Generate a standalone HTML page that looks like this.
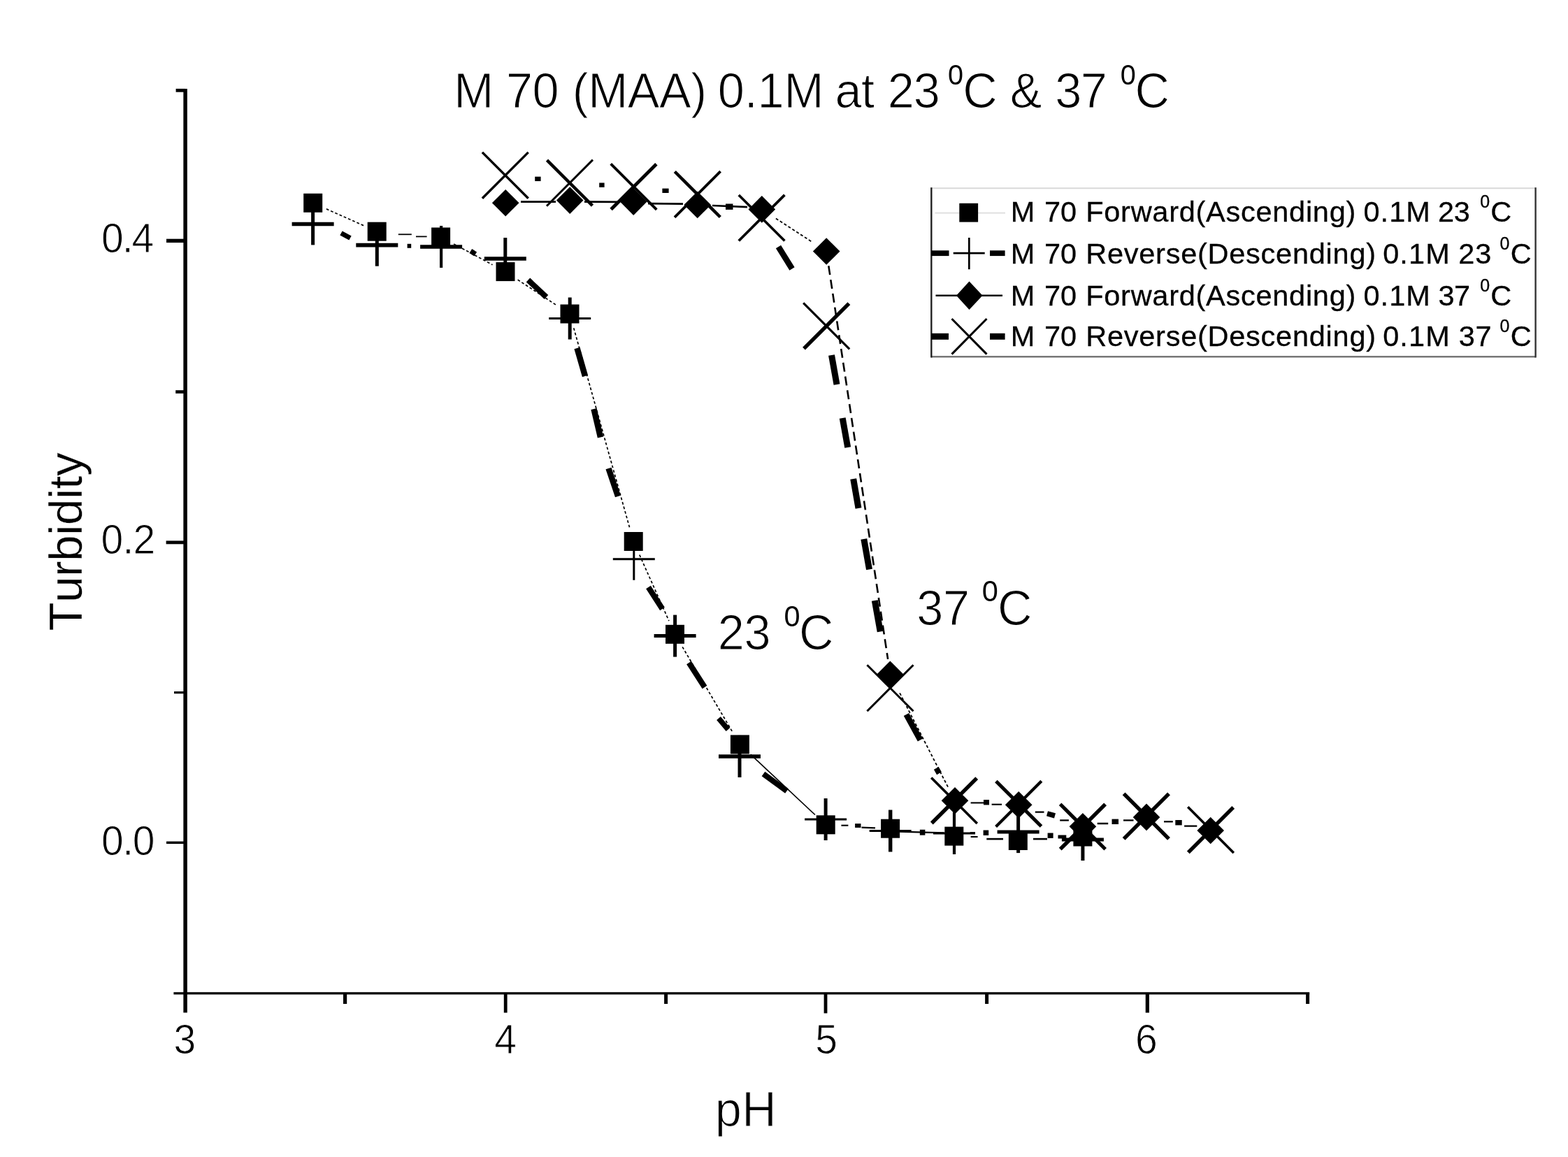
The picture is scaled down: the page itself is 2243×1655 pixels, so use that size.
<!DOCTYPE html>
<html lang="en"><head><meta charset="utf-8"><title>M 70 (MAA) 0.1M turbidity vs pH</title>
<style>html,body{margin:0;padding:0;background:#fff}svg{display:block}text{font-family:"Liberation Sans",Arial,Helvetica,sans-serif;fill:#000;font-kerning:none}</style>
</head><body>
<svg width="2243" height="1655" viewBox="0 0 2243 1655">
<rect width="2243" height="1655" fill="#fff"/>
<g stroke="#000" fill="none" stroke-linecap="butt">
<line x1="265.1" y1="126.9" x2="265.1" y2="1448.6" stroke-width="5.5" />
<line x1="248.4" y1="1420.9" x2="1873.2" y2="1420.9" stroke-width="3.2" />
<line x1="251.6" y1="129.3" x2="265.1" y2="129.3" stroke-width="4.8" />
<line x1="238.0" y1="344.4" x2="265.1" y2="344.4" stroke-width="5.4" />
<line x1="251.2" y1="560.5" x2="265.1" y2="560.5" stroke-width="4.6" />
<line x1="237.6" y1="775.9" x2="265.1" y2="775.9" stroke-width="4.8" />
<line x1="249.0" y1="990.6" x2="265.1" y2="990.6" stroke-width="3.2" />
<line x1="238.0" y1="1205.3" x2="265.1" y2="1205.3" stroke-width="3.5" />
<line x1="493.6" y1="1420.9" x2="493.6" y2="1436.0" stroke-width="5.2" />
<line x1="723.2" y1="1420.9" x2="723.2" y2="1448.6" stroke-width="4.8" />
<line x1="952.6" y1="1420.9" x2="952.6" y2="1436.0" stroke-width="5" />
<line x1="1181.0" y1="1420.9" x2="1181.0" y2="1449.4" stroke-width="4.8" />
<line x1="1411.6" y1="1420.9" x2="1411.6" y2="1436.0" stroke-width="5" />
<line x1="1641.3" y1="1420.9" x2="1641.3" y2="1448.6" stroke-width="5.2" />
<line x1="1870.6" y1="1420.9" x2="1870.6" y2="1436.0" stroke-width="5" />
</g>
<text font-size="57px" stroke="#fff" stroke-width="0.9" transform="translate(0 361.3) scale(1 1.03)"><tspan x="144.92" letter-spacing="-1.921">0.4</tspan></text>
<text font-size="57px" stroke="#fff" stroke-width="0.9" transform="translate(0 791.6) scale(1 1.03)"><tspan x="144.62" letter-spacing="-0.872">0.2</tspan></text>
<text font-size="57px" stroke="#fff" stroke-width="0.9" transform="translate(0 1223.0) scale(1 1.03)"><tspan x="144.92" letter-spacing="-1.292">0.0</tspan></text>
<text font-size="57px" stroke="#fff" stroke-width="0.9" transform="translate(0 1507.4) scale(1 1.03)"><tspan x="248.62">3</tspan></text>
<text font-size="57px" stroke="#fff" stroke-width="0.9" transform="translate(0 1507.4) scale(1 1.03)"><tspan x="707.33">4</tspan></text>
<text font-size="57px" stroke="#fff" stroke-width="0.9" transform="translate(0 1507.4) scale(1 1.03)"><tspan x="1166.21">5</tspan></text>
<text font-size="57px" stroke="#fff" stroke-width="0.9" transform="translate(0 1507.4) scale(1 1.03)"><tspan x="1624.05">6</tspan></text>
<text font-size="68.5px" stroke="#fff" stroke-width="1.1" transform="translate(0 1611.1) scale(1 1.035)"><tspan x="1022.73" letter-spacing="0.436">pH</tspan></text>
<text font-size="67.2px" stroke="#fff" stroke-width="0.4" letter-spacing="-0.329" transform="translate(117.3 902.51) rotate(-90)">Turbidity</text>
<text font-size="68.5px" stroke="#fff" stroke-width="1.1" transform="translate(0 154.1) scale(1 1.015)"><tspan x="649.27">M </tspan><tspan x="723.94" letter-spacing="-0.605">70 </tspan><tspan x="818.80" letter-spacing="-0.441">(MAA) </tspan><tspan x="1026.77" letter-spacing="-0.130">0.1M </tspan><tspan x="1194.54" letter-spacing="-0.616">at </tspan><tspan x="1269.80" letter-spacing="-1.138">23 </tspan><tspan x="1355.89" dy="-32.2" font-size="39.6px" stroke="none">0</tspan><tspan x="1377.38" dy="32.2">C </tspan><tspan x="1444.64">&amp; </tspan><tspan x="1509.34" letter-spacing="-1.539">37 </tspan><tspan x="1602.69" dy="-32.2" font-size="39.6px" stroke="none">0</tspan><tspan x="1623.58" dy="32.2">C</tspan></text>
<text font-size="68.5px" stroke="#fff" stroke-width="1.1" transform="translate(0 929.3) scale(1 1.035)"><tspan x="1026.70" letter-spacing="-0.338">23 </tspan><tspan x="1121.41" dy="-32.6" font-size="41.5px" stroke="none">0</tspan><tspan x="1143.08" dy="32.6">C</tspan></text>
<text font-size="68.5px" stroke="#fff" stroke-width="1.1" transform="translate(0 893.8) scale(1 1.035)"><tspan x="1311.14" letter-spacing="-0.139">37 </tspan><tspan x="1404.86" dy="-32.6" font-size="41.5px" stroke="none">0</tspan><tspan x="1427.08" dy="32.6">C</tspan></text>
<g stroke="#000" fill="none" stroke-linecap="butt">
<line x1="466.9" y1="298.9" x2="520.0" y2="322.6" stroke-width="1.7" stroke-dasharray="3.8 3"/>
<line x1="569.8" y1="335.3" x2="588.8" y2="335.3" stroke-width="1.8" />
<line x1="595.0" y1="338.4" x2="610.6" y2="338.4" stroke-width="1.8" />
<line x1="649.1" y1="348.9" x2="704.5" y2="378.7" stroke-width="1.7" stroke-dasharray="3.8 3"/>
<line x1="740.6" y1="400.1" x2="797.4" y2="437.5" stroke-width="1.7" stroke-dasharray="3.8 3"/>
<line x1="820.7" y1="469.2" x2="900.5" y2="754.3" stroke-width="1.7" stroke-dasharray="3.8 3"/>
<line x1="914.8" y1="793.7" x2="956.9" y2="888.1" stroke-width="1.7" stroke-dasharray="3.8 3"/>
<line x1="976.2" y1="925.4" x2="1047.7" y2="1046.8" stroke-width="1.7" stroke-dasharray="3.8 3"/>
<line x1="1073.7" y1="1079.2" x2="1165.9" y2="1165.5" stroke-width="1.7" />
<line x1="1232.5" y1="1183.6" x2="1252.0" y2="1184.4" stroke-width="2.2" />
<line x1="1287.0" y1="1189.6" x2="1350.5" y2="1191.4" stroke-width="2.3" />
<line x1="745.0" y1="288.6" x2="795.0" y2="288.6" stroke-width="2.7" />
<line x1="836.0" y1="288.6" x2="885.0" y2="288.8" stroke-width="2.7" />
<line x1="927.0" y1="291.2" x2="977.0" y2="291.6" stroke-width="2.7" />
<line x1="1019.0" y1="294.0" x2="1069.0" y2="296.2" stroke-width="2.7" />
<line x1="1109.9" y1="312.5" x2="1162.1" y2="346.4" stroke-width="1.8" stroke-dasharray="4 3"/>
<line x1="1185.3" y1="380.3" x2="1270.1" y2="942.9" stroke-width="2.6" stroke-dasharray="13 7"/>
<line x1="1287.1" y1="991.4" x2="1356.0" y2="1125.7" stroke-width="1.8" stroke-dasharray="4 3"/>
</g>
<g stroke="#000" fill="none" stroke-linecap="butt">
<line x1="488.0" y1="333.5" x2="501.0" y2="340.5" stroke-width="7" />
<line x1="582.6" y1="351.8" x2="588.2" y2="351.8" stroke-width="6.0" />
<line x1="673.3" y1="359.0" x2="680.2" y2="363.5" stroke-width="6.9" />
<line x1="755.5" y1="400.5" x2="781.5" y2="425.0" stroke-width="8" />
<line x1="825.5" y1="498.0" x2="837.0" y2="538.0" stroke-width="8.5" />
<line x1="849.5" y1="585.0" x2="859.0" y2="625.5" stroke-width="8.5" />
<line x1="870.5" y1="670.0" x2="884.0" y2="710.0" stroke-width="8.5" />
<line x1="927.5" y1="840.0" x2="947.5" y2="871.0" stroke-width="8" />
<line x1="985.5" y1="948.0" x2="1008.0" y2="983.0" stroke-width="8" />
<line x1="1028.0" y1="1027.5" x2="1041.5" y2="1043.5" stroke-width="7.5" />
<line x1="1092.0" y1="1107.0" x2="1125.5" y2="1131.5" stroke-width="8" />
<line x1="1203.4" y1="1180.7" x2="1213.4" y2="1180.7" stroke-width="2.1" />
<line x1="1223.1" y1="1181.0" x2="1231.5" y2="1181.0" stroke-width="5.800000000000001" />
<line x1="1315.8" y1="1190.7" x2="1323.4" y2="1190.7" stroke-width="7.9" />
<line x1="1387.7" y1="1191.2" x2="1395.0" y2="1191.2" stroke-width="2.1" />
<line x1="1388.6" y1="1197.0" x2="1398.6" y2="1197.0" stroke-width="2.1" />
<line x1="1406.6" y1="1191.2" x2="1414.2" y2="1191.2" stroke-width="7.4" />
<line x1="1411.3" y1="1200.1" x2="1435.0" y2="1200.1" stroke-width="2.6" />
<line x1="1478.0" y1="1200.1" x2="1498.0" y2="1200.1" stroke-width="2.6" />
<line x1="1498.6" y1="1195.2" x2="1506.6" y2="1195.2" stroke-width="7.4" />
<line x1="1513.5" y1="1197.0" x2="1525.3" y2="1197.0" stroke-width="5" />
<line x1="765.2" y1="255.9" x2="773.6" y2="255.9" stroke-width="6.4" />
<line x1="857.2" y1="264.7" x2="864.6" y2="264.7" stroke-width="6.4" />
<line x1="947.4" y1="272.8" x2="956.6" y2="272.8" stroke-width="6.4" />
<line x1="1038.0" y1="295.7" x2="1048.5" y2="295.7" stroke-width="8.4" />
<line x1="1113.5" y1="353.0" x2="1133.0" y2="384.5" stroke-width="8.5" />
<line x1="1189.5" y1="508.0" x2="1197.0" y2="550.0" stroke-width="9" />
<line x1="1205.2" y1="598.0" x2="1212.7" y2="640.0" stroke-width="9" />
<line x1="1220.7" y1="685.0" x2="1228.0" y2="727.0" stroke-width="9" />
<line x1="1235.8" y1="771.0" x2="1243.5" y2="814.5" stroke-width="9" />
<line x1="1251.3" y1="859.0" x2="1259.2" y2="903.5" stroke-width="9" />
<line x1="1296.5" y1="1022.0" x2="1316.5" y2="1058.5" stroke-width="8.5" />
<line x1="1339.3" y1="1098.9" x2="1343.5" y2="1106.3" stroke-width="7.9" />
<line x1="1388.6" y1="1148.4" x2="1410.4" y2="1148.4" stroke-width="2.1" />
<line x1="1407.0" y1="1147.7" x2="1415.0" y2="1147.7" stroke-width="7.4" />
<line x1="1418.6" y1="1150.7" x2="1433.1" y2="1150.7" stroke-width="2.1" />
<line x1="1480.8" y1="1161.6" x2="1493.5" y2="1161.6" stroke-width="2.3000000000000003" />
<line x1="1498.0" y1="1163.8" x2="1509.0" y2="1166.9" stroke-width="7.4" />
<line x1="1516.2" y1="1173.4" x2="1528.9" y2="1173.4" stroke-width="2.3000000000000003" />
<line x1="1569.7" y1="1178.0" x2="1585.2" y2="1178.0" stroke-width="2.5" />
<line x1="1590.5" y1="1175.3" x2="1600.0" y2="1175.3" stroke-width="7.4" />
<line x1="1607.0" y1="1173.4" x2="1621.5" y2="1173.4" stroke-width="2.3000000000000003" />
<line x1="1665.0" y1="1175.3" x2="1677.8" y2="1175.3" stroke-width="2.3000000000000003" />
<line x1="1681.3" y1="1176.7" x2="1690.7" y2="1176.7" stroke-width="7.4" />
<line x1="1694.1" y1="1181.6" x2="1712.3" y2="1181.6" stroke-width="2.3000000000000003" />
</g>
<g stroke="#000" fill="none" stroke-linecap="butt">
<path d="M689.9 217.9L755.7 283.7" stroke-width="3.4"/>
<path d="M689.9 283.7L755.7 217.9" stroke-width="3.4"/>
<path d="M782.5 229.2L847.5 294.2" stroke-width="4.5"/>
<path d="M782.0 294.8L848.0 228.6" stroke-width="3"/>
<path d="M873.7 234.3L939.3 299.9" stroke-width="3.8"/>
<path d="M874.1 299.5L938.9 234.7" stroke-width="4.8"/>
<path d="M965.3 245.5L1030.3 310.5" stroke-width="4.5"/>
<path d="M965.0 310.8L1030.6 245.2" stroke-width="3.8"/>
<path d="M1056.8 278.9L1122.4 344.5" stroke-width="3.6"/>
<path d="M1056.8 344.5L1122.4 278.9" stroke-width="3.8"/>
<path d="M1149.2 433.4L1215.2 499.4" stroke-width="3.2"/>
<path d="M1150.0 498.6L1214.4 434.2" stroke-width="5.4"/>
<path d="M1240.4 951.2L1306.5 1017.2" stroke-width="3"/>
<path d="M1240.4 1017.2L1306.5 951.2" stroke-width="3"/>
<path d="M1332.2 1112.5L1397.8 1178.1" stroke-width="3.6"/>
<path d="M1332.8 1177.5L1397.2 1113.1" stroke-width="5.4"/>
<path d="M1424.9 1117.5L1489.5 1182.1" stroke-width="5"/>
<path d="M1424.6 1182.4L1489.8 1117.2" stroke-width="4.2"/>
<path d="M1516.6 1150.2L1581.2 1214.8" stroke-width="5"/>
<path d="M1516.7 1214.7L1581.1 1150.3" stroke-width="5.4"/>
<path d="M1607.6 1135.4L1672.0 1199.8" stroke-width="5.4"/>
<path d="M1607.6 1199.8L1672.0 1135.4" stroke-width="5.4"/>
<path d="M1699.2 1154.3L1764.8 1219.9" stroke-width="3.6"/>
<path d="M1699.8 1219.3L1764.2 1154.9" stroke-width="5.4"/>
<path d="M417.6 320.4H477.6" stroke-width="5.5"/>
<path d="M447.6 290.4V350.4" stroke-width="5"/>
<path d="M509.3 350.7H569.3" stroke-width="5.8"/>
<path d="M539.3 320.7V380.7" stroke-width="5"/>
<path d="M601.1 353.0H661.1" stroke-width="5.5"/>
<path d="M631.1 323.0V383.0" stroke-width="4.2"/>
<path d="M692.8 370.1H752.8" stroke-width="5.5"/>
<path d="M722.8 340.1V400.1" stroke-width="5"/>
<path d="M785.2 455.5H845.2" stroke-width="2.8"/>
<path d="M815.2 425.5V485.5" stroke-width="5"/>
<path d="M876.8 799.8H936.8" stroke-width="3"/>
<path d="M906.8 769.8V829.8" stroke-width="3"/>
<path d="M935.6 909.6H995.6" stroke-width="5"/>
<path d="M965.6 879.6V939.6" stroke-width="5"/>
<path d="M1028.0 1081.9H1088.0" stroke-width="5.5"/>
<path d="M1058.0 1051.9V1111.9" stroke-width="5"/>
<path d="M1151.1 1172.0H1211.1" stroke-width="3"/>
<path d="M1181.1 1142.0V1202.0" stroke-width="5"/>
<path d="M1243.7 1188.5H1303.7" stroke-width="3"/>
<path d="M1273.7 1158.5V1218.5" stroke-width="5.4"/>
<path d="M1335.0 1192.0H1395.0" stroke-width="3"/>
<path d="M1365.0 1162.0V1222.0" stroke-width="4.2"/>
<path d="M1426.6 1190.1H1486.6" stroke-width="5"/>
<path d="M1456.6 1160.1V1220.1" stroke-width="5"/>
<path d="M1518.9 1201.0H1578.9" stroke-width="5"/>
<path d="M1548.9 1171.0V1231.0" stroke-width="5"/>
</g>
<g fill="#000" stroke="none">
<path d="M723.2 270.9L742.5 290.2L723.2 309.5L703.9 290.2Z"/>
<path d="M815.2 267.3L834.5 286.6L815.2 305.9L795.9 286.6Z"/>
<path d="M906.2 269.3L925.5 288.6L906.2 307.9L886.9 288.6Z"/>
<path d="M997.7 273.7L1017.0 293.0L997.7 312.3L978.4 293.0Z"/>
<path d="M1089.8 280.1L1109.1 299.4L1089.8 318.7L1070.5 299.4Z"/>
<path d="M1182.2 340.2L1201.5 359.5L1182.2 378.8L1162.9 359.5Z"/>
<path d="M1273.4 945.4L1292.7 964.7L1273.4 984.0L1254.1 964.7Z"/>
<path d="M1366.0 1126.0L1385.3 1145.3L1366.0 1164.6L1346.7 1145.3Z"/>
<path d="M1457.2 1132.0L1476.5 1151.3L1457.2 1170.6L1437.9 1151.3Z"/>
<path d="M1548.9 1162.9L1568.2 1182.2L1548.9 1201.5L1529.6 1182.2Z"/>
<path d="M1640.0 1149.6L1659.3 1168.9L1640.0 1188.2L1620.7 1168.9Z"/>
<path d="M1731.7 1168.7L1751.0 1188.0L1731.7 1207.3L1712.4 1188.0Z"/>
<rect x="434.2" y="276.8" width="27" height="27"/>
<rect x="525.7" y="317.7" width="27" height="27"/>
<rect x="617.1" y="325.5" width="27" height="27"/>
<rect x="709.5" y="375.1" width="27" height="27"/>
<rect x="801.5" y="435.5" width="27" height="27"/>
<rect x="892.7" y="761.0" width="27" height="27"/>
<rect x="952.0" y="893.8" width="27" height="27"/>
<rect x="1044.9" y="1051.4" width="27" height="27"/>
<rect x="1167.7" y="1166.3" width="27" height="27"/>
<rect x="1260.1" y="1171.7" width="27" height="27"/>
<rect x="1351.3" y="1182.6" width="27" height="27"/>
<rect x="1442.8" y="1189.0" width="27" height="27"/>
<rect x="1535.4" y="1183.5" width="27" height="27"/>
</g>
<rect x="1332.3" y="269.2" width="864.3" height="241.1" fill="#fff" stroke="none"/>
<g fill="none">
<line x1="1332.3" y1="269.2" x2="2196.6" y2="269.2" stroke-width="2" stroke="#d9d9d9"/>
<line x1="1332.3" y1="510.3" x2="2196.6" y2="510.3" stroke-width="2.6" stroke="#777"/>
<line x1="1332.3" y1="268.2" x2="1332.3" y2="511.5" stroke-width="2.4" stroke="#222"/>
<line x1="2196.6" y1="268.2" x2="2196.6" y2="511.5" stroke-width="2.4" stroke="#333"/>
</g>
<g stroke="#000" fill="none">
<line x1="1337.5" y1="304.6" x2="1438.0" y2="304.6" stroke-width="1.6" stroke="#dcdcdc"/>
<line x1="1332.3" y1="362.2" x2="1357.5" y2="362.2" stroke-width="7.8" />
<line x1="1416.0" y1="362.2" x2="1437.6" y2="362.2" stroke-width="7.8" />
<path d="M1363.7 362.2H1408.7M1386.3 340V385.3" stroke-width="2.7"/>
<line x1="1338.5" y1="422.7" x2="1434.0" y2="422.7" stroke-width="2.6" />
<line x1="1332.3" y1="481.3" x2="1357.0" y2="481.3" stroke-width="9" />
<line x1="1416.0" y1="481.3" x2="1437.6" y2="481.3" stroke-width="9" />
<path d="M1361.5 456L1411.5 506.6M1361.5 506.6L1411.5 456" stroke-width="3"/>
</g>
<g fill="#000" stroke="none">
<rect x="1372.3" y="290.8" width="26.8" height="26.8"/>
<path d="M1386.5 402.6L1405.5 422.7L1386.5 442.9L1368 422.7Z"/>
</g>
<text font-size="41.5px" stroke="#000" stroke-width="0.3" y="316.7"><tspan x="1445.72">M </tspan><tspan x="1494.07" letter-spacing="-0.212">70 </tspan><tspan x="1553.20" letter-spacing="0.732">Forward(Ascending) </tspan><tspan x="1950.48" letter-spacing="1.055">0.1M </tspan><tspan x="2056.91" letter-spacing="-0.250">23 </tspan><tspan x="2117.30" dy="-19.8" font-size="25px">0</tspan><tspan x="2132.15" dy="19.8">C</tspan></text>
<text font-size="41.5px" stroke="#000" stroke-width="0.3" y="377.0"><tspan x="1445.72">M </tspan><tspan x="1494.07" letter-spacing="-0.212">70 </tspan><tspan x="1553.20" letter-spacing="0.752">Reverse(Descending) </tspan><tspan x="1978.18" letter-spacing="1.088">0.1M </tspan><tspan x="2086.21" letter-spacing="0.850">23 </tspan><tspan x="2145.50" dy="-19.8" font-size="25px">0</tspan><tspan x="2160.80" dy="19.8">C</tspan></text>
<text font-size="41.5px" stroke="#000" stroke-width="0.3" y="437.0"><tspan x="1445.72">M </tspan><tspan x="1494.07" letter-spacing="-0.212">70 </tspan><tspan x="1553.20" letter-spacing="0.732">Forward(Ascending) </tspan><tspan x="1950.48" letter-spacing="1.055">0.1M </tspan><tspan x="2057.42" letter-spacing="-0.493">37 </tspan><tspan x="2117.30" dy="-19.8" font-size="25px">0</tspan><tspan x="2132.15" dy="19.8">C</tspan></text>
<text font-size="41.5px" stroke="#000" stroke-width="0.3" y="494.6"><tspan x="1445.72">M </tspan><tspan x="1494.07" letter-spacing="-0.212">70 </tspan><tspan x="1553.20" letter-spacing="0.752">Reverse(Descending) </tspan><tspan x="1978.18" letter-spacing="1.088">0.1M </tspan><tspan x="2086.72" letter-spacing="0.607">37 </tspan><tspan x="2145.50" dy="-19.8" font-size="25px">0</tspan><tspan x="2160.80" dy="19.8">C</tspan></text>
</svg></body></html>
